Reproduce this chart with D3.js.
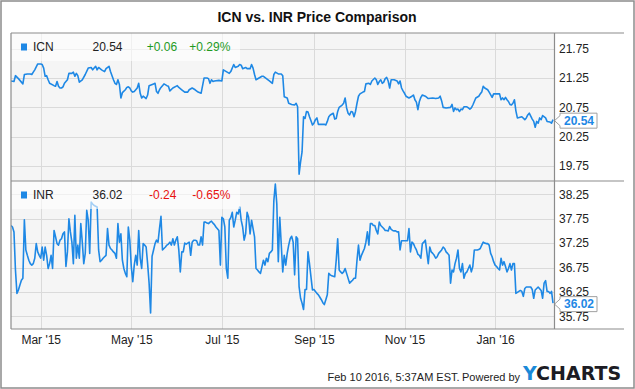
<!DOCTYPE html>
<html>
<head>
<meta charset="utf-8">
<script src="https://cdn.jsdelivr.net/npm/d3@7"></script>
<style>
  body { margin: 0; background: #fff; }
  svg { display: block; }
  svg text { font-family: 'Liberation Sans', Arial, sans-serif; }
</style>
</head>
<body>
<svg id="chart"></svg>
<script>
// ICN daily close
const icnSeries = [
  ['2015-02-09', 21.20], ['2015-02-11', 21.19], ['2015-02-12', 21.29], ['2015-02-14', 21.24], ['2015-02-16', 21.18],
  ['2015-02-17', 21.15], ['2015-02-18', 21.31], ['2015-02-20', 21.32], ['2015-02-22', 21.32], ['2015-02-23', 21.31],
  ['2015-02-24', 21.35], ['2015-02-25', 21.39], ['2015-02-27', 21.49], ['2015-03-01', 21.49], ['2015-03-02', 21.48],
  ['2015-03-03', 21.42], ['2015-03-04', 21.28], ['2015-03-05', 21.29], ['2015-03-06', 21.22], ['2015-03-07', 21.16],
  ['2015-03-10', 21.12], ['2015-03-11', 21.11], ['2015-03-12', 21.19], ['2015-03-13', 21.11], ['2015-03-14', 21.08],
  ['2015-03-15', 21.08], ['2015-03-16', 21.10], ['2015-03-17', 21.16], ['2015-03-19', 21.22], ['2015-03-20', 21.33],
  ['2015-03-22', 21.33], ['2015-03-23', 21.35], ['2015-03-24', 21.28], ['2015-03-25', 21.33], ['2015-03-26', 21.29],
  ['2015-03-27', 21.18], ['2015-03-29', 21.22], ['2015-03-31', 21.31], ['2015-04-02', 21.42], ['2015-04-04', 21.43],
  ['2015-04-05', 21.39], ['2015-04-07', 21.45], ['2015-04-08', 21.39], ['2015-04-09', 21.43], ['2015-04-11', 21.39],
  ['2015-04-13', 21.36], ['2015-04-14', 21.41], ['2015-04-16', 21.45], ['2015-04-17', 21.36], ['2015-04-19', 21.22],
  ['2015-04-20', 21.16], ['2015-04-21', 21.14], ['2015-04-22', 21.22], ['2015-04-23', 21.14], ['2015-04-24', 20.91],
  ['2015-04-25', 21.00], ['2015-04-27', 21.05], ['2015-04-28', 21.09], ['2015-04-29', 21.10], ['2015-04-30', 21.08],
  ['2015-05-01', 21.03], ['2015-05-02', 21.01], ['2015-05-03', 21.02], ['2015-05-05', 21.08], ['2015-05-06', 21.16],
  ['2015-05-07', 20.99], ['2015-05-08', 20.91], ['2015-05-09', 20.94], ['2015-05-10', 20.92], ['2015-05-11', 20.90],
  ['2015-05-12', 20.96], ['2015-05-13', 21.12], ['2015-05-16', 21.15], ['2015-05-17', 21.16], ['2015-05-18', 21.02],
  ['2015-05-19', 20.99], ['2015-05-20', 21.05], ['2015-05-21', 21.09], ['2015-05-23', 21.15], ['2015-05-25', 21.12],
  ['2015-05-26', 21.11], ['2015-05-27', 21.03], ['2015-05-29', 21.08], ['2015-06-01', 21.12], ['2015-06-02', 21.09],
  ['2015-06-04', 21.05], ['2015-06-06', 21.01], ['2015-06-08', 21.01], ['2015-06-09', 21.05], ['2015-06-11', 21.08],
  ['2015-06-13', 21.05], ['2015-06-15', 21.01], ['2015-06-17', 20.99], ['2015-06-19', 21.25], ['2015-06-21', 21.25],
  ['2015-06-22', 21.24], ['2015-06-23', 21.16], ['2015-06-24', 21.22], ['2015-06-25', 21.19], ['2015-06-26', 21.20],
  ['2015-06-29', 21.21], ['2015-07-01', 21.20], ['2015-07-02', 21.39], ['2015-07-04', 21.36], ['2015-07-06', 21.33],
  ['2015-07-07', 21.36], ['2015-07-09', 21.48], ['2015-07-10', 21.43], ['2015-07-12', 21.45], ['2015-07-13', 21.48],
  ['2015-07-14', 21.47], ['2015-07-15', 21.41], ['2015-07-17', 21.43], ['2015-07-18', 21.41], ['2015-07-20', 21.41],
  ['2015-07-21', 21.48], ['2015-07-22', 21.42], ['2015-07-23', 21.31], ['2015-07-24', 21.22], ['2015-07-26', 21.25],
  ['2015-07-28', 21.28], ['2015-07-29', 21.28], ['2015-07-31', 21.24], ['2015-08-02', 21.20], ['2015-08-04', 21.16],
  ['2015-08-05', 21.31], ['2015-08-06', 21.35], ['2015-08-08', 21.32], ['2015-08-10', 21.32], ['2015-08-11', 21.29],
  ['2015-08-12', 20.93], ['2015-08-14', 20.91], ['2015-08-15', 20.82], ['2015-08-17', 20.80], ['2015-08-19', 20.79],
  ['2015-08-20', 20.82], ['2015-08-21', 20.76], ['2015-08-22', 19.61], ['2015-08-23', 19.82], ['2015-08-24', 19.99],
  ['2015-08-25', 20.59], ['2015-08-26', 20.56], ['2015-08-27', 20.68], ['2015-08-28', 20.67], ['2015-08-29', 20.59],
  ['2015-08-30', 20.52], ['2015-08-31', 20.45], ['2015-09-01', 20.48], ['2015-09-02', 20.54], ['2015-09-03', 20.57],
  ['2015-09-04', 20.46], ['2015-09-06', 20.46], ['2015-09-08', 20.46], ['2015-09-09', 20.45], ['2015-09-10', 20.51],
  ['2015-09-11', 20.59], ['2015-09-12', 20.62], ['2015-09-14', 20.65], ['2015-09-15', 20.55], ['2015-09-16', 20.56],
  ['2015-09-17', 20.68], ['2015-09-18', 20.75], ['2015-09-20', 20.79], ['2015-09-21', 20.82], ['2015-09-22', 20.91],
  ['2015-09-23', 20.74], ['2015-09-24', 20.65], ['2015-09-25', 20.62], ['2015-09-26', 20.68], ['2015-09-27', 20.67],
  ['2015-09-28', 20.59], ['2015-09-29', 20.68], ['2015-09-30', 20.82], ['2015-10-01', 20.94], ['2015-10-02', 20.98],
  ['2015-10-04', 21.01], ['2015-10-05', 21.02], ['2015-10-06', 21.15], ['2015-10-08', 21.16], ['2015-10-09', 21.14],
  ['2015-10-10', 21.20], ['2015-10-12', 21.25], ['2015-10-13', 21.22], ['2015-10-14', 21.14], ['2015-10-15', 21.19],
  ['2015-10-16', 21.22], ['2015-10-17', 21.16], ['2015-10-18', 21.18], ['2015-10-19', 21.24], ['2015-10-20', 21.26],
  ['2015-10-21', 21.20], ['2015-10-22', 21.08], ['2015-10-23', 21.22], ['2015-10-25', 21.22], ['2015-10-27', 21.20],
  ['2015-10-28', 21.15], ['2015-10-29', 21.20], ['2015-10-30', 21.08], ['2015-10-31', 21.03], ['2015-11-01', 20.99],
  ['2015-11-02', 20.94], ['2015-11-04', 20.91], ['2015-11-06', 20.94], ['2015-11-07', 20.96], ['2015-11-08', 20.88],
  ['2015-11-09', 20.84], ['2015-11-10', 20.71], ['2015-11-11', 20.85], ['2015-11-12', 20.92], ['2015-11-13', 20.96],
  ['2015-11-15', 20.94], ['2015-11-17', 20.90], ['2015-11-20', 20.91], ['2015-11-22', 20.90], ['2015-11-24', 20.91],
  ['2015-11-25', 20.94], ['2015-11-26', 20.86], ['2015-11-27', 20.75], ['2015-11-29', 20.74], ['2015-12-02', 20.75],
  ['2015-12-03', 20.80], ['2015-12-04', 20.68], ['2015-12-05', 20.74], ['2015-12-06', 20.71], ['2015-12-07', 20.72],
  ['2015-12-08', 20.68], ['2015-12-09', 20.72], ['2015-12-10', 20.71], ['2015-12-11', 20.76], ['2015-12-13', 20.76],
  ['2015-12-14', 20.74], ['2015-12-15', 20.72], ['2015-12-16', 20.74], ['2015-12-17', 20.79], ['2015-12-18', 20.85],
  ['2015-12-19', 20.91], ['2015-12-21', 20.94], ['2015-12-22', 20.98], ['2015-12-23', 21.01], ['2015-12-24', 21.11],
  ['2015-12-25', 21.08], ['2015-12-27', 21.05], ['2015-12-28', 21.01], ['2015-12-30', 20.92], ['2015-12-31', 20.98],
  ['2016-01-02', 20.98], ['2016-01-04', 20.98], ['2016-01-05', 20.88], ['2016-01-06', 20.91], ['2016-01-07', 20.88],
  ['2016-01-08', 20.92], ['2016-01-09', 20.88], ['2016-01-10', 20.85], ['2016-01-11', 20.80], ['2016-01-12', 20.79],
  ['2016-01-13', 20.82], ['2016-01-14', 20.88], ['2016-01-15', 20.69], ['2016-01-16', 20.57], ['2016-01-19', 20.59],
  ['2016-01-21', 20.54], ['2016-01-22', 20.57], ['2016-01-23', 20.62], ['2016-01-24', 20.65], ['2016-01-26', 20.55],
  ['2016-01-27', 20.51], ['2016-01-28', 20.41], ['2016-01-29', 20.51], ['2016-01-30', 20.48], ['2016-01-31', 20.57],
  ['2016-02-01', 20.54], ['2016-02-02', 20.61], ['2016-02-04', 20.57], ['2016-02-05', 20.51], ['2016-02-07', 20.50],
  ['2016-02-08', 20.48], ['2016-02-09', 20.54]
];

// INR daily close
const inrSeries = [
  ['2015-02-09', 37.61], ['2015-02-10', 37.58], ['2015-02-11', 37.48], ['2015-02-12', 36.70], ['2015-02-13', 36.22],
  ['2015-02-14', 36.29], ['2015-02-15', 36.39], ['2015-02-16', 36.49], ['2015-02-17', 36.53], ['2015-02-18', 37.73],
  ['2015-02-19', 37.11], ['2015-02-20', 37.00], ['2015-02-21', 36.90], ['2015-02-22', 36.83], ['2015-02-23', 36.80],
  ['2015-02-24', 36.83], ['2015-02-25', 36.94], ['2015-02-26', 37.24], ['2015-02-27', 37.07], ['2015-02-28', 37.00],
  ['2015-03-01', 36.94], ['2015-03-02', 37.17], ['2015-03-03', 36.90], ['2015-03-04', 37.17], ['2015-03-05', 37.00],
  ['2015-03-06', 36.73], ['2015-03-07', 36.83], ['2015-03-08', 37.00], ['2015-03-09', 36.73], ['2015-03-10', 37.51],
  ['2015-03-11', 37.38], ['2015-03-12', 37.24], ['2015-03-13', 37.21], ['2015-03-14', 37.31], ['2015-03-15', 37.34],
  ['2015-03-16', 37.44], ['2015-03-17', 37.48], ['2015-03-18', 36.77], ['2015-03-19', 37.07], ['2015-03-20', 37.75],
  ['2015-03-21', 37.48], ['2015-03-22', 37.27], ['2015-03-23', 36.83], ['2015-03-24', 37.82], ['2015-03-25', 36.94],
  ['2015-03-26', 37.21], ['2015-03-27', 36.94], ['2015-03-28', 37.65], ['2015-03-29', 37.27], ['2015-03-30', 36.83],
  ['2015-03-31', 37.04], ['2015-04-01', 37.92], ['2015-04-02', 37.72], ['2015-04-03', 37.04], ['2015-04-04', 38.09],
  ['2015-04-05', 38.05], ['2015-04-06', 38.02], ['2015-04-08', 37.99], ['2015-04-09', 37.11], ['2015-04-10', 36.87],
  ['2015-04-11', 36.90], ['2015-04-12', 36.94], ['2015-04-13', 36.97], ['2015-04-14', 37.00], ['2015-04-15', 37.55],
  ['2015-04-16', 37.21], ['2015-04-17', 37.14], ['2015-04-18', 37.11], ['2015-04-19', 37.07], ['2015-04-20', 37.04],
  ['2015-04-21', 36.94], ['2015-04-22', 37.65], ['2015-04-23', 37.27], ['2015-04-24', 37.44], ['2015-04-25', 36.90],
  ['2015-04-26', 36.73], ['2015-04-27', 36.63], ['2015-04-28', 36.56], ['2015-04-29', 37.58], ['2015-04-30', 37.31],
  ['2015-05-01', 36.77], ['2015-05-02', 36.46], ['2015-05-03', 36.80], ['2015-05-04', 37.00], ['2015-05-05', 36.80],
  ['2015-05-06', 37.51], ['2015-05-07', 36.94], ['2015-05-08', 36.73], ['2015-05-09', 37.24], ['2015-05-10', 37.21],
  ['2015-05-11', 37.17], ['2015-05-12', 36.83], ['2015-05-13', 36.43], ['2015-05-14', 35.82], ['2015-05-15', 36.98],
  ['2015-05-16', 37.11], ['2015-05-17', 37.24], ['2015-05-18', 37.31], ['2015-05-19', 37.27], ['2015-05-20', 37.55],
  ['2015-05-21', 37.80], ['2015-05-22', 37.11], ['2015-05-23', 37.14], ['2015-05-24', 37.17], ['2015-05-25', 37.21],
  ['2015-05-26', 37.23], ['2015-05-27', 37.27], ['2015-05-28', 37.21], ['2015-05-29', 37.34], ['2015-05-30', 37.21],
  ['2015-05-31', 37.31], ['2015-06-01', 37.38], ['2015-06-02', 37.11], ['2015-06-03', 36.66], ['2015-06-04', 37.07],
  ['2015-06-05', 37.07], ['2015-06-06', 37.25], ['2015-06-07', 37.23], ['2015-06-08', 37.25], ['2015-06-09', 37.27],
  ['2015-06-10', 37.00], ['2015-06-11', 37.27], ['2015-06-12', 37.31], ['2015-06-13', 37.31], ['2015-06-14', 37.30],
  ['2015-06-15', 37.21], ['2015-06-16', 37.21], ['2015-06-17', 37.38], ['2015-06-18', 37.21], ['2015-06-19', 37.68],
  ['2015-06-20', 37.68], ['2015-06-21', 37.66], ['2015-06-22', 37.65], ['2015-06-23', 37.68], ['2015-06-24', 37.70],
  ['2015-06-25', 37.66], ['2015-06-26', 37.63], ['2015-06-27', 37.58], ['2015-06-29', 37.51], ['2015-06-30', 36.80],
  ['2015-07-01', 37.78], ['2015-07-02', 37.75], ['2015-07-03', 37.58], ['2015-07-04', 36.73], ['2015-07-05', 36.53],
  ['2015-07-06', 37.72], ['2015-07-07', 37.77], ['2015-07-08', 37.88], ['2015-07-09', 37.58], ['2015-07-10', 37.72],
  ['2015-07-11', 37.88], ['2015-07-12', 37.85], ['2015-07-13', 37.99], ['2015-07-14', 37.72], ['2015-07-15', 37.58],
  ['2015-07-16', 37.31], ['2015-07-17', 37.44], ['2015-07-18', 37.88], ['2015-07-19', 37.78], ['2015-07-20', 37.44],
  ['2015-07-21', 37.72], ['2015-07-23', 37.38], ['2015-07-24', 36.73], ['2015-07-25', 36.70], ['2015-07-26', 36.66],
  ['2015-07-27', 36.63], ['2015-07-29', 36.90], ['2015-07-30', 36.80], ['2015-07-31', 36.94], ['2015-08-01', 36.87],
  ['2015-08-02', 37.04], ['2015-08-03', 37.07], ['2015-08-04', 37.11], ['2015-08-05', 38.12], ['2015-08-06', 38.46],
  ['2015-08-07', 38.05], ['2015-08-08', 36.87], ['2015-08-09', 37.78], ['2015-08-11', 36.66], ['2015-08-12', 37.00],
  ['2015-08-13', 36.80], ['2015-08-14', 37.04], ['2015-08-15', 37.21], ['2015-08-16', 37.34], ['2015-08-17', 37.39],
  ['2015-08-18', 37.27], ['2015-08-19', 36.60], ['2015-08-20', 37.38], ['2015-08-21', 37.34], ['2015-08-22', 36.36],
  ['2015-08-23', 36.12], ['2015-08-24', 36.02], ['2015-08-25', 35.89], ['2015-08-26', 36.30], ['2015-08-27', 36.30],
  ['2015-08-28', 37.07], ['2015-08-29', 36.83], ['2015-08-30', 36.56], ['2015-08-31', 36.29], ['2015-09-01', 36.30],
  ['2015-09-02', 36.26], ['2015-09-03', 36.22], ['2015-09-04', 36.19], ['2015-09-05', 36.14], ['2015-09-06', 36.09],
  ['2015-09-07', 36.03], ['2015-09-08', 35.99], ['2015-09-09', 36.09], ['2015-09-10', 36.19], ['2015-09-11', 36.63],
  ['2015-09-12', 36.60], ['2015-09-13', 36.58], ['2015-09-15', 36.56], ['2015-09-16', 36.90], ['2015-09-17', 37.34],
  ['2015-09-18', 36.70], ['2015-09-19', 36.66], ['2015-09-20', 36.63], ['2015-09-21', 36.66], ['2015-09-22', 36.73],
  ['2015-09-23', 36.63], ['2015-09-25', 36.43], ['2015-09-26', 36.46], ['2015-09-27', 36.49], ['2015-09-28', 36.53],
  ['2015-09-29', 36.53], ['2015-09-30', 36.90], ['2015-10-01', 37.21], ['2015-10-02', 36.90], ['2015-10-03', 37.00],
  ['2015-10-04', 37.07], ['2015-10-05', 37.14], ['2015-10-06', 37.27], ['2015-10-07', 37.48], ['2015-10-08', 37.21],
  ['2015-10-09', 37.65], ['2015-10-10', 37.65], ['2015-10-11', 37.61], ['2015-10-12', 37.61], ['2015-10-13', 37.51],
  ['2015-10-14', 37.44], ['2015-10-15', 37.68], ['2015-10-16', 37.61], ['2015-10-17', 37.58], ['2015-10-18', 37.55],
  ['2015-10-19', 37.51], ['2015-10-20', 37.51], ['2015-10-21', 37.50], ['2015-10-22', 37.59], ['2015-10-23', 37.53],
  ['2015-10-24', 37.51], ['2015-10-25', 37.50], ['2015-10-26', 37.50], ['2015-10-27', 37.48], ['2015-10-28', 37.48],
  ['2015-10-29', 37.11], ['2015-10-30', 37.30], ['2015-11-01', 37.30], ['2015-11-03', 37.30], ['2015-11-04', 37.55],
  ['2015-11-05', 37.07], ['2015-11-06', 37.27], ['2015-11-07', 37.24], ['2015-11-08', 37.17], ['2015-11-09', 37.11],
  ['2015-11-10', 37.02], ['2015-11-11', 37.00], ['2015-11-12', 36.94], ['2015-11-13', 37.24], ['2015-11-14', 37.27],
  ['2015-11-15', 37.31], ['2015-11-17', 36.83], ['2015-11-18', 37.17], ['2015-11-19', 37.07], ['2015-11-20', 37.04],
  ['2015-11-21', 37.00], ['2015-11-22', 36.94], ['2015-11-23', 36.97], ['2015-11-24', 37.04], ['2015-11-26', 37.11],
  ['2015-11-27', 37.17], ['2015-11-28', 37.14], ['2015-11-29', 37.07], ['2015-11-30', 37.04], ['2015-12-01', 37.00],
  ['2015-12-02', 36.43], ['2015-12-03', 36.70], ['2015-12-04', 36.66], ['2015-12-05', 36.83], ['2015-12-06', 36.94],
  ['2015-12-07', 37.11], ['2015-12-08', 36.73], ['2015-12-09', 36.66], ['2015-12-10', 36.83], ['2015-12-11', 36.53],
  ['2015-12-12', 36.63], ['2015-12-13', 36.66], ['2015-12-14', 36.73], ['2015-12-15', 36.80], ['2015-12-16', 36.66],
  ['2015-12-17', 36.77], ['2015-12-18', 37.11], ['2015-12-20', 37.11], ['2015-12-21', 37.12], ['2015-12-22', 37.14],
  ['2015-12-23', 37.21], ['2015-12-24', 37.27], ['2015-12-25', 37.25], ['2015-12-26', 37.24], ['2015-12-27', 37.24],
  ['2015-12-28', 37.21], ['2015-12-29', 37.04], ['2015-12-30', 36.97], ['2015-12-31', 36.87], ['2016-01-01', 36.80],
  ['2016-01-02', 36.77], ['2016-01-03', 36.73], ['2016-01-04', 36.70], ['2016-01-05', 36.94], ['2016-01-06', 36.80],
  ['2016-01-07', 36.87], ['2016-01-08', 36.77], ['2016-01-09', 36.66], ['2016-01-10', 36.73], ['2016-01-11', 36.83],
  ['2016-01-12', 36.70], ['2016-01-13', 36.83], ['2016-01-14', 36.83], ['2016-01-15', 36.22], ['2016-01-16', 36.24],
  ['2016-01-17', 36.26], ['2016-01-18', 36.28], ['2016-01-19', 36.26], ['2016-01-20', 36.16], ['2016-01-21', 36.32],
  ['2016-01-22', 36.35], ['2016-01-24', 36.35], ['2016-01-25', 36.35], ['2016-01-26', 36.30], ['2016-01-27', 36.12],
  ['2016-01-28', 36.29], ['2016-01-29', 36.32], ['2016-01-30', 36.35], ['2016-02-01', 36.28], ['2016-02-02', 36.12],
  ['2016-02-03', 36.43], ['2016-02-04', 36.48], ['2016-02-05', 36.26], ['2016-02-06', 36.26], ['2016-02-07', 36.22],
  ['2016-02-08', 36.26], ['2016-02-09', 36.02]
];

const symbols = ['ICN', 'INR'];
const lastPrices = [20.54, 36.02];
const priceChanges = [0.06, -0.24];
const pctChanges = [0.29, -0.65];
const icnTicks = [19.75, 20.25, 20.75, 21.25, 21.75];
const inrTicks = [35.75, 36.25, 36.75, 37.25, 37.75, 38.25];
const monthTicks = ['2015-03-01', '2015-05-01', '2015-07-01', '2015-09-01', '2015-11-01', '2016-01-01'];
const dateRange = ['2015-02-09', '2016-02-10'];
const title = 'ICN vs. INR Price Comparison';
const stamp = 'Feb 10 2016, 5:37AM EST.';

const width = 635, height = 389;
const left = 11, right = 554.5, frameRight = 624;
const lineColor = '#1e88e5';
const frameColor = '#8c8c8c';
const gridColor = '#dadada';
const textColor = '#222';

const parse = d3.timeParse('%Y-%m-%d');

const svg = d3.select('#chart').attr('width', width).attr('height', height);

svg.append('rect')
  .attr('x', 1).attr('y', 1).attr('width', width - 2).attr('height', height - 2)
  .attr('fill', '#fff').attr('stroke', frameColor).attr('stroke-width', 1.5);

svg.append('text')
  .attr('x', 317).attr('y', 22)
  .attr('text-anchor', 'middle')
  .style('font-size', '14px').style('font-weight', 'bold').attr('fill', '#111')
  .text(title);

const x = d3.scaleTime()
  .domain(dateRange.map(parse))
  .range([left, right]);

const panels = [
  { id: 'icn', series: icnSeries, ticks: icnTicks, top: 33, bottom: 181, domain: [19.494, 22.018] },
  { id: 'inr', series: inrSeries, ticks: inrTicks, top: 181, bottom: 329, domain: [35.49, 38.523] },
];

const fmtChange = v => (v >= 0 ? '+' : '-') + Math.abs(v).toFixed(2);

panels.forEach((p, i) => {
  const y = d3.scaleLinear().domain(p.domain).range([p.bottom, p.top]);
  const g = svg.append('g').attr('class', `panel ${p.id}`);

  g.append('clipPath').attr('id', `clip-${p.id}`)
    .append('rect')
    .attr('x', left).attr('y', p.top)
    .attr('width', right - left).attr('height', p.bottom - p.top);

  g.append('rect')
    .attr('x', left).attr('y', p.top)
    .attr('width', right - left).attr('height', p.bottom - p.top)
    .attr('fill', '#f5f5f5');

  // grid
  g.selectAll('.hgrid')
    .data(p.ticks)
    .enter()
    .append('line')
    .attr('x1', left).attr('x2', right)
    .attr('y1', d => Math.round(y(d)) + 0.5).attr('y2', d => Math.round(y(d)) + 0.5)
    .attr('stroke', gridColor);

  g.selectAll('.vgrid')
    .data(monthTicks.map(parse))
    .enter()
    .append('line')
    .attr('x1', d => Math.round(x(d)) + 0.5).attr('x2', d => Math.round(x(d)) + 0.5)
    .attr('y1', p.top).attr('y2', p.bottom)
    .attr('stroke', gridColor);

  // price line
  const line = d3.line()
    .x(d => x(parse(d[0])))
    .y(d => y(d[1]));

  g.append('path')
    .datum(p.series)
    .attr('clip-path', `url(#clip-${p.id})`)
    .attr('d', line)
    .attr('fill', 'none')
    .attr('stroke', lineColor)
    .attr('stroke-width', 1.6)
    .attr('stroke-linejoin', 'round');

  // legend
  g.append('rect')
    .attr('x', left).attr('y', p.top)
    .attr('width', 229).attr('height', 28)
    .attr('fill', '#fff').attr('fill-opacity', 0.6);

  const base = p.top + 18;
  g.append('rect')
    .attr('x', 21).attr('y', base - 7.5)
    .attr('width', 6).attr('height', 7)
    .attr('fill', lineColor);

  const chg = priceChanges[i];
  const chgColor = chg >= 0 ? '#1f9a1f' : '#e8110f';
  const legendItems = [
    { x: 33, text: symbols[i], color: textColor },
    { x: 92.5, text: lastPrices[i].toFixed(2), color: textColor },
    { x: chg >= 0 ? 146.7 : 149, text: fmtChange(chg), color: chgColor },
    { x: chg >= 0 ? 189.3 : 192.3, text: fmtChange(pctChanges[i]) + '%', color: chgColor },
  ];
  g.selectAll('.legend-text')
    .data(legendItems)
    .enter()
    .append('text')
    .attr('x', d => d.x).attr('y', base)
    .attr('fill', d => d.color)
    .style('font-size', '12px')
    .text(d => d.text);

  // right axis
  const axis = g.append('g')
    .attr('transform', `translate(${right},0)`)
    .call(d3.axisRight(y).tickValues(p.ticks).tickFormat(d3.format('.2f')).tickSize(0).tickPadding(4.5))
    .attr('font-family', null)
    .attr('font-size', null);
  axis.select('.domain').remove();
  axis.selectAll('text').style('font-size', '12px').attr('fill', textColor);

  // last value callout
  const cy = y(lastPrices[i]) + 1;
  const bx = 560, bw = 37, bh = 15;
  g.append('path')
    .attr('d', `M${right},${cy} L${bx},${cy - 5} L${bx},${cy - bh / 2} L${bx + bw},${cy - bh / 2} L${bx + bw},${cy + bh / 2} L${bx},${cy + bh / 2} L${bx},${cy + 5} Z`)
    .attr('fill', '#fff')
    .attr('stroke', '#a0a0a0');
  g.append('text')
    .attr('x', bx + bw / 2 + 0.5).attr('y', cy + 4.3)
    .attr('text-anchor', 'middle')
    .style('font-size', '12px').style('font-weight', 'bold')
    .attr('fill', lineColor)
    .text(lastPrices[i].toFixed(2));
});

// x axis labels
const xAxis = svg.append('g')
  .attr('transform', 'translate(0,329)')
  .call(d3.axisBottom(x)
    .tickValues(monthTicks.map(parse))
    .tickFormat(d3.timeFormat("%b '%y"))
    .tickSize(0)
    .tickPadding(6.5))
  .attr('font-family', null)
  .attr('font-size', null);
xAxis.select('.domain').remove();
xAxis.selectAll('text').style('font-size', '12px').attr('fill', textColor);

// frame lines
const frame = svg.append('g').attr('stroke', frameColor).attr('stroke-width', 1.2);
[33, 181, 329].forEach(yy => {
  frame.append('line').attr('x1', left).attr('x2', frameRight).attr('y1', yy).attr('y2', yy);
});
frame.append('line').attr('x1', left).attr('x2', left).attr('y1', 33).attr('y2', 329);
frame.append('line').attr('x1', right).attr('x2', right).attr('y1', 33).attr('y2', 329);

// footer
svg.append('text')
  .attr('x', 327.5).attr('y', 381)
  .style('font-size', '11px').attr('fill', textColor)
  .text(stamp);
svg.append('text')
  .attr('x', 462).attr('y', 381)
  .style('font-size', '11px').attr('fill', textColor)
  .text('Powered by');

const logo = svg.append('text')
  .attr('x', 523).attr('y', 379.5)
  .style('font-family', "'DejaVu Sans', sans-serif")
  .style('font-size', '19px').style('font-weight', 'bold');
logo.append('tspan').attr('fill', '#1a8ad8').text('Y');
logo.append('tspan').attr('fill', '#1c1c24').text('CHARTS');
</script>
</body>
</html>
